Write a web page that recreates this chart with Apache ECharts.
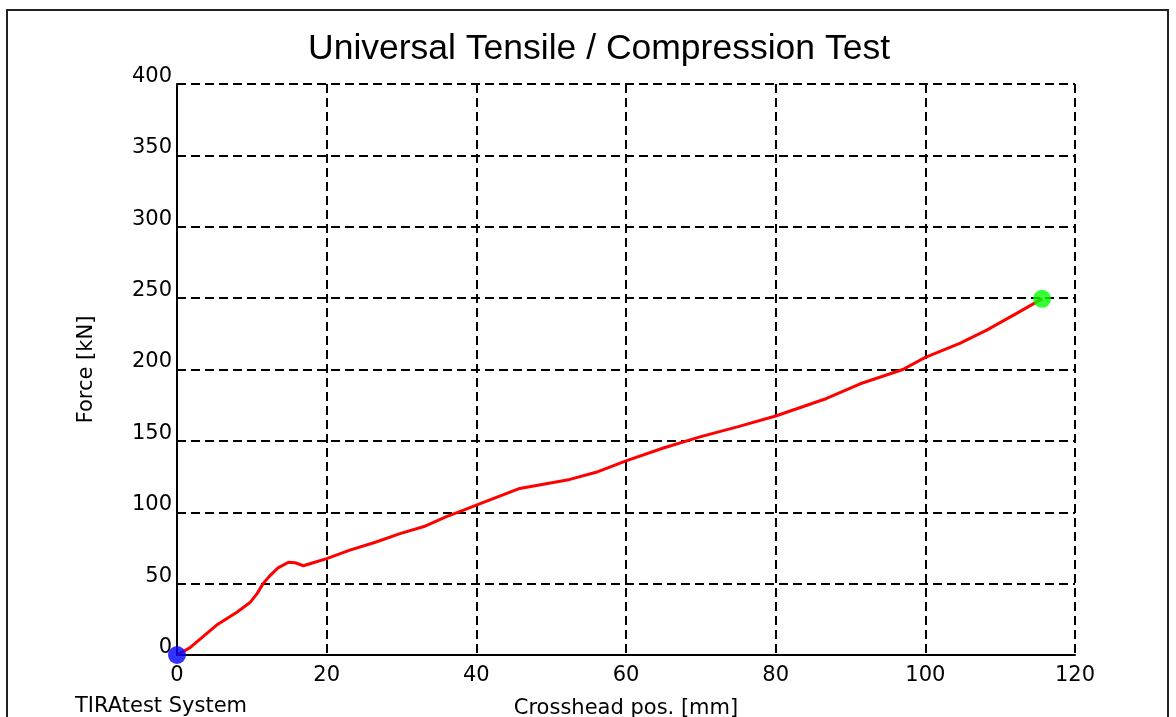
<!DOCTYPE html>
<html>
<head>
<meta charset="utf-8">
<title>Universal Tensile / Compression Test</title>
<script src="https://cdn.jsdelivr.net/npm/echarts@6/dist/echarts.min.js"></script>
<style>
    html, body {
        margin: 0;
        padding: 0;
        background: #fff;
    }
    #testChart {
        width: 1176px;
        height: 717px;
    }
</style>
</head>
<body>
<div id="testChart"></div>
<script>
// 横梁位置 (mm)
let crossheadPos = [0, 1.7, 5.3, 8, 9.8, 10.7, 11.5, 12.5, 13.5, 14.9, 15.8, 16.9, 18.2, 20, 23.1, 26.5, 29.8, 33, 36, 38.3, 40, 45.8, 52.5, 56, 60, 65, 70, 75, 80, 86.8, 91.3, 97, 100, 104.6, 108.2, 112.2, 115.6];
// 力 (kN)
let force = [0, 5, 21, 30, 37, 43, 50, 56, 61, 65, 64.6, 62.5, 64.6, 67.5, 73.5, 79, 85, 90, 97, 101.5, 105, 116.7, 123, 128, 136, 145, 153, 160, 167.4, 179.7, 190, 200, 208.5, 218.3, 227.6, 239.3, 249.5];
// 起点 / 终点
let startPoint = [[0, 0]];
let endPoint = [[115.6, 249.5]];

let curve = crossheadPos.map((x, i) => [x, force[i]]);

let labelFont = 'DejaVu Sans';
let myChart = echarts.init(document.getElementById('testChart'));
myChart.setOption({
    animation: false,
    backgroundColor: '#fff',
    title: {
        text: 'Universal Tensile / Compression Test',
        left: 303,
        top: 26,
        textStyle: {
            fontFamily: 'Liberation Sans',
            fontSize: 35.5,
            fontWeight: 'normal',
            color: '#000'
        }
    },
    graphic: [
        {
            type: 'rect',
            shape: { x: 7, y: 10, width: 1161, height: 730 },
            style: { fill: 'none', stroke: '#222', lineWidth: 2 },
            silent: true
        },
        {
            type: 'text',
            left: 75,
            top: 696,
            style: {
                text: 'TIRAtest System',
                font: '21px "DejaVu Sans"',
                fill: '#000'
            }
        }
    ],
    grid: {
        left: 177,
        right: 101,
        top: 84,
        bottom: 62,
        outerBoundsMode: 'none'
    },
    xAxis: {
        type: 'value',
        min: 0,
        max: 120,
        interval: 20,
        name: 'Crosshead pos. [mm]',
        nameLocation: 'middle',
        nameGap: 43,
        nameTextStyle: {
            fontFamily: labelFont,
            fontSize: 21,
            color: '#000'
        },
        axisLine: {
            lineStyle: { color: '#000', width: 2 }
        },
        axisTick: { show: false },
        axisLabel: {
            fontFamily: labelFont,
            fontSize: 21,
            color: '#000',
            margin: 10
        },
        splitLine: {
            show: true,
            lineStyle: { color: '#000', width: 2, type: [9, 5] }
        }
    },
    yAxis: {
        type: 'value',
        min: 0,
        max: 400,
        interval: 50,
        name: 'Force [kN]',
        nameLocation: 'middle',
        nameGap: 80,
        nameRotate: 90,
        nameTextStyle: {
            fontFamily: labelFont,
            fontSize: 21,
            color: '#000'
        },
        axisLine: {
            show: true,
            lineStyle: { color: '#000', width: 2 }
        },
        axisTick: { show: false },
        axisLabel: {
            fontFamily: labelFont,
            fontSize: 21,
            color: '#000',
            margin: 5,
            verticalAlign: 'bottom',
            lineHeight: 15
        },
        splitLine: {
            show: true,
            lineStyle: { color: '#000', width: 2, type: [9, 5] }
        }
    },
    series: [
        {
            type: 'line',
            data: curve,
            showSymbol: false,
            smooth: false,
            lineStyle: { color: '#ff0000', width: 3 },
            z: 3
        },
        {
            type: 'scatter',
            data: startPoint,
            symbolSize: 18,
            itemStyle: { color: '#0000ff' },
            z: 4
        },
        {
            type: 'scatter',
            data: endPoint,
            symbolSize: 18,
            itemStyle: { color: '#00ff00' },
            z: 4
        }
    ]
});
</script>
</body>
</html>
